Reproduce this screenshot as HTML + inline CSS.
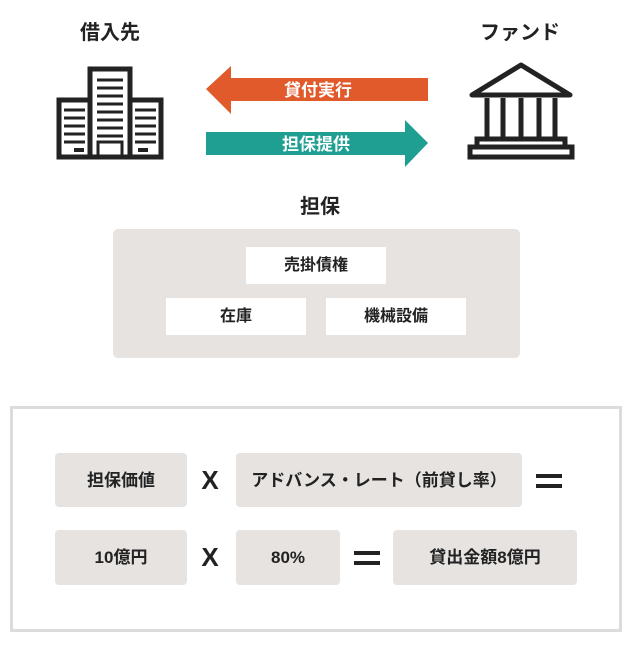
<!DOCTYPE html><html><head><meta charset="utf-8"><style>
body{margin:0;width:640px;height:650px;background:#fff;position:relative;font-family:"Liberation Sans","Noto Sans CJK JP",sans-serif;color:#222;overflow:hidden}
.a{position:absolute}
.t{position:absolute;font-weight:bold;font-size:20px;text-align:center;line-height:24px}
.b{position:absolute;background:#e6e3e1;border-radius:4px;display:flex;align-items:center;justify-content:center;font-size:17px;font-weight:bold;color:#222;line-height:1}
.w{position:absolute;background:#fff;display:flex;align-items:center;justify-content:center;font-size:16px;font-weight:bold;line-height:1}
.eq{position:absolute;width:26px;height:14px;border-top:4px solid #222;border-bottom:4px solid #222;box-sizing:border-box}
.x{position:absolute;font-size:26px;line-height:26px;width:30px;text-align:center;font-family:"Liberation Sans",sans-serif;font-weight:bold}
</style></head><body>
<div class="t" style="left:60px;top:21px;width:100px">借入先</div>
<div class="t" style="left:470px;top:21px;width:100px">ファンド</div>
<svg class="a" style="left:0;top:0" width="640" height="200">
<g fill="none" stroke="#222" stroke-width="5">
<rect x="90" y="69" width="40" height="88"/>
<rect x="59" y="100" width="31" height="57"/>
<rect x="130" y="100" width="31" height="57"/>
</g>
<g stroke="#222" stroke-width="3">
<line x1="97" y1="80" x2="123" y2="80"/><line x1="97" y1="88" x2="123" y2="88"/><line x1="97" y1="96" x2="123" y2="96"/><line x1="97" y1="104" x2="123" y2="104"/><line x1="97" y1="112" x2="123" y2="112"/><line x1="97" y1="120" x2="123" y2="120"/><line x1="97" y1="128" x2="123" y2="128"/><line x1="97" y1="136" x2="123" y2="136"/>
<line x1="64" y1="110" x2="85" y2="110"/><line x1="64" y1="118" x2="85" y2="118"/><line x1="64" y1="126" x2="85" y2="126"/><line x1="64" y1="134" x2="85" y2="134"/><line x1="64" y1="142" x2="85" y2="142"/>
<line x1="135" y1="110" x2="156" y2="110"/><line x1="135" y1="118" x2="156" y2="118"/><line x1="135" y1="126" x2="156" y2="126"/><line x1="135" y1="134" x2="156" y2="134"/><line x1="135" y1="142" x2="156" y2="142"/>
</g>
<rect x="98" y="142" width="24" height="15" fill="none" stroke="#222" stroke-width="3"/>
<path d="M74 150h10M138 150h10" stroke="#222" stroke-width="4"/>
<g fill="none" stroke="#222" stroke-width="5">
<path d="M521 65 L570 95 L472 95 Z" stroke-linejoin="round"/>
<line x1="480" y1="95" x2="562" y2="95"/>
<rect x="477" y="139" width="88" height="8"/>
<rect x="470" y="147" width="102" height="10"/>
</g>
<g stroke="#222" stroke-width="5">
<line x1="487" y1="98" x2="487" y2="139"/><line x1="503" y1="98" x2="503" y2="139"/><line x1="521" y1="98" x2="521" y2="139"/><line x1="539" y1="98" x2="539" y2="139"/><line x1="555" y1="98" x2="555" y2="139"/>
</g>
<polygon points="206,89 231,66 231,78 428,78 428,101 231,101 231,114" fill="#e05a2b"/>
<polygon points="206,132 405,132 405,120 428,143 405,167 405,155 206,155" fill="#1f9e92"/>
<text x="318" y="96" text-anchor="middle" fill="#fff" font-size="17" font-weight="bold" font-family="Liberation Sans,Noto Sans CJK JP,sans-serif">貸付実行</text>
<text x="316" y="150" text-anchor="middle" fill="#fff" font-size="17" font-weight="bold" font-family="Liberation Sans,Noto Sans CJK JP,sans-serif">担保提供</text>
</svg>
<div class="t" style="left:270px;top:195px;width:100px">担保</div>
<div class="a" style="left:113px;top:229px;width:407px;height:129px;background:#e6e3e1;border-radius:5px"></div>
<div class="w" style="left:246px;top:247px;width:140px;height:37px">売掛債権</div>
<div class="w" style="left:166px;top:298px;width:140px;height:37px">在庫</div>
<div class="w" style="left:326px;top:298px;width:140px;height:37px">機械設備</div>
<div class="a" style="left:10px;top:406px;width:606px;height:220px;border:3px solid #dcdcdc"></div>
<div class="b" style="left:55px;top:453px;width:132px;height:54px">担保価値</div>
<div class="x" style="left:195px;top:467px">X</div>
<div class="b" style="left:236px;top:453px;width:286px;height:54px">アドバンス・レート（前貸し率）</div>
<div class="eq" style="left:536px;top:474px"></div>
<div class="b" style="left:55px;top:530px;width:132px;height:55px">10億円</div>
<div class="x" style="left:195px;top:544px">X</div>
<div class="b" style="left:236px;top:530px;width:104px;height:55px">80%</div>
<div class="eq" style="left:354px;top:551px"></div>
<div class="b" style="left:393px;top:530px;width:184px;height:55px">貸出金額8億円</div>
</body></html>
